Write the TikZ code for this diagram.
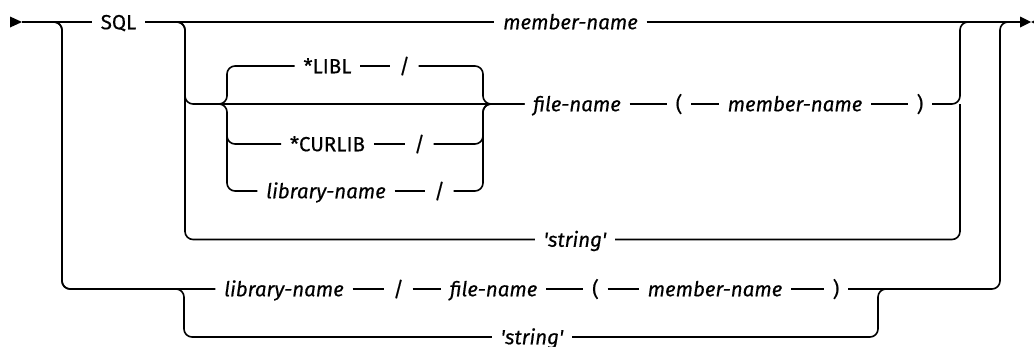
\documentclass[tikz,border=0pt]{standalone}
\usepackage{fontspec}
\setmainfont{Fira Sans}[FakeBold=0.35]
\begin{document}
\begin{tikzpicture}[x=1bp,y=-1bp,line width=1.6bp,
  txt/.style={inner xsep=8bp,inner ysep=0pt,text height=14.5bp,text depth=0pt,
    font=\fontsize{20.5bp}{24bp}\selectfont},
  kw/.style={txt},
  var/.style={txt,font=\fontsize{20.5bp}{24bp}\selectfont\itshape},
  rc/.style={rounded corners=8bp}]
\useasboundingbox (0,0) rectangle (1034,346);
\clip (0,0) rectangle (1034,346);
% rows
\coordinate (start) at (22,22);
\coordinate (endp) at (1020,22);
\node[kw] (sql) at (118.5,22) {SQL};
\node[var] (mem1) at (570.5,22) {member-name};
\node[kw] (libl) at (327.5,66) {*LIBL};
\node[kw] (sl1) at (404.5,66) {/};
\node[kw] (curlib) at (327.5,144) {*CURLIB};
\node[kw] (sl2) at (419.5,144) {/};
\node[var] (lib1) at (326,191) {library-name};
\node[kw] (sl3) at (439.5,191) {/};
\node[var] (file1) at (577,104) {file-name};
\node[kw] (lp1) at (679,104) {(};
\node[var] (mem2) at (795,104) {member-name};
\node[kw] (rp1) at (920,104) {)};
\node[var] (str1) at (575,239.5) {\textquotesingle string\textquotesingle};
\node[var] (lib2) at (284,289) {library-name};
\node[kw] (sl4) at (398.5,289) {/};
\node[var] (file2) at (493.5,289) {file-name};
\node[kw] (lp2) at (595.5,289) {(};
\node[var] (mem3) at (715,289) {member-name};
\node[kw] (rp2) at (836,289) {)};
\node[var] (str2) at (532,337) {\textquotesingle string\textquotesingle};
% junctions
\coordinate (b1) at (62,22);
\coordinate (b1d) at (62,289);
\coordinate (b2) at (185,22);
\coordinate (b2f) at (185,104);
\coordinate (b2s) at (185,239.5);
\coordinate (blin) at (205,104);
\coordinate (bl) at (227,104);
\coordinate (bld) at (227,125);
\coordinate (br) at (483,104);
\coordinate (r1) at (960,22);
\coordinate (r2) at (1000,22);
\coordinate (b3) at (184,289);
\coordinate (b3r) at (878,289);
\coordinate (b3e) at (890,289);
% arrows
\fill (10,16.5) -- (start) -- (10,27.5) -- cycle;
\fill (endp |- 0,16.5) -- (1031,22) -- (endp |- 0,27.5) -- cycle;
\fill (1031,22) -- (1042,16.5) -- (1042,27.5) -- cycle;
% main line
\draw (start) -- (sql);
\draw (sql) -- (mem1);
\draw (mem1) -- (endp);
% outer branch
\draw[rc] (start) -- (b1) -- (b1d) -- (lib2);
\draw (lib2) -- (sl4) -- (file2) -- (lp2) -- (mem3) -- (rp2);
\draw[rc] (rp2) -- (b3r -| r2) -- (r2) -- (endp);
\draw[rc] (start) -- (b1) -- (b1d) -- (b3) -- (b3 |- str2) -- (str2);
\draw[rc] (str2) -- (b3r |- str2) -- (b3r) -- (b3e);
% inner branch
\draw[rc] (sql) -- (b2) -- (b2s) -- (str1);
\draw[rc] (sql) -- (b2) -- (b2f) -- (file1);
\draw[rc] (str1) -- (r1 |- str1) -- (r1 |- file1);
\draw[rc] (rp1) -- (r1 |- rp1) -- (r1) -- (endp);
% library choice
\draw[rc] (blin) -- (bl) -- (bl |- libl) -- (libl);
\draw[rc] (blin) -- (bl) -- (bl |- lib1) -- (lib1);
\draw[rc] (bld) -- (bl |- curlib) -- (curlib);
\draw (libl) -- (sl1);
\draw (curlib) -- (sl2);
\draw (lib1) -- (sl3);
\draw[rc] (sl1) -- (br |- sl1) -- (br) -- (file1);
\draw[rc] (sl2) -- (br |- sl2) -- (br) -- (file1);
\draw[rc] (sl3) -- (br |- sl3) -- (br) -- (file1);
% file row
\draw (file1) -- (lp1) -- (mem2) -- (rp1);
\end{tikzpicture}
\end{document}
